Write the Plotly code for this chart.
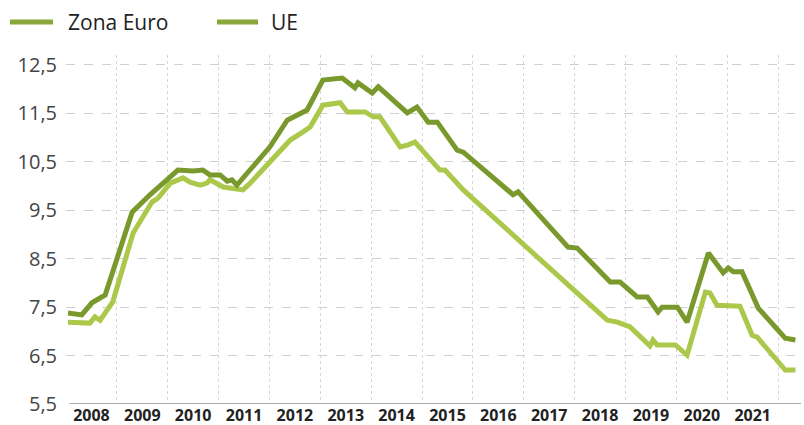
import plotly.graph_objects as go

# Zona Euro (darker line)
ez_x = [2008.04, 2008.31, 2008.51, 2008.77, 2009.30, 2009.65, 2010.20, 2010.50, 2010.69, 2010.83,
        2011.03, 2011.17, 2011.26, 2011.36, 2012.01, 2012.35, 2012.74, 2013.05, 2013.43, 2013.68,
        2013.74, 2014.02, 2014.14, 2014.71, 2014.90, 2015.12, 2015.30, 2015.69, 2015.81, 2016.79,
        2016.89, 2017.87, 2018.05, 2018.70, 2018.89, 2019.23, 2019.43, 2019.64, 2019.72, 2020.02,
        2020.21, 2020.47, 2020.63, 2020.92, 2021.02, 2021.12, 2021.29, 2021.61, 2022.14, 2022.34]
ez_y = [7.38, 7.34, 7.59, 7.75, 9.46, 9.82, 10.33, 10.31, 10.33, 10.23,
        10.23, 10.10, 10.13, 10.02, 10.81, 11.36, 11.57, 12.19, 12.23, 12.03,
        12.13, 11.92, 12.05, 11.51, 11.63, 11.32, 11.32, 10.74, 10.70, 9.82,
        9.88, 8.74, 8.72, 8.02, 8.02, 7.71, 7.71, 7.40, 7.50, 7.50,
        7.19, 8.12, 8.62, 8.21, 8.31, 8.23, 8.23, 7.48, 6.86, 6.82]

# UE (lighter line)
ue_x = [2008.04, 2008.31, 2008.47, 2008.57, 2008.67, 2008.92, 2009.32, 2009.69, 2009.81, 2010.05,
        2010.18, 2010.30, 2010.44, 2010.64, 2010.77, 2010.83, 2011.09, 2011.48, 2011.62, 2012.41,
        2012.66, 2012.80, 2013.05, 2013.39, 2013.53, 2013.88, 2014.04, 2014.17, 2014.57, 2014.73,
        2014.86, 2015.00, 2015.35, 2015.45, 2015.81, 2018.64, 2018.84, 2019.09, 2019.48, 2019.54,
        2019.62, 2019.98, 2020.21, 2020.57, 2020.66, 2020.80, 2021.25, 2021.49, 2021.59, 2022.14,
        2022.34]
ue_y = [7.19, 7.17, 7.17, 7.30, 7.23, 7.61, 9.03, 9.67, 9.75, 10.06,
        10.13, 10.17, 10.08, 10.02, 10.06, 10.13, 9.98, 9.92, 10.06, 10.95,
        11.12, 11.22, 11.67, 11.72, 11.53, 11.53, 11.43, 11.43, 10.81, 10.85,
        10.91, 10.74, 10.33, 10.33, 9.92, 7.23, 7.19, 7.09, 6.70, 6.82,
        6.72, 6.72, 6.51, 7.81, 7.79, 7.54, 7.52, 6.92, 6.88, 6.20,
        6.20]

year_labels = ["2008", "2009", "2010", "2011", "2012", "2013", "2014",
               "2015", "2016", "2017", "2018", "2019", "2020", "2021"]
y_ticks = [5.5, 6.5, 7.5, 8.5, 9.5, 10.5, 11.5, 12.5]
y_tick_labels = ["5,5", "6,5", "7,5", "8,5", "9,5", "10,5", "11,5", "12,5"]
series_names = ["Zona Euro", "UE"]

DARK = "#7a992d"
LIGHT = "#abc84b"
LEG = "#8aa83a"
FONT = "Open Sans"

fig = go.Figure()
fig.add_trace(go.Scatter(x=ue_x, y=ue_y, mode="lines", name=series_names[1],
                         line=dict(color=LIGHT, width=5), showlegend=False))
fig.add_trace(go.Scatter(x=ez_x, y=ez_y, mode="lines", name=series_names[0],
                         line=dict(color=DARK, width=5), showlegend=False))

year_vals = [int(y) + 0.5 for y in year_labels]
bounds = [int(y) for y in year_labels[1:]] + [int(year_labels[-1]) + 1]

fig.update_xaxes(
    range=[2008.0, 2022.45],
    tickvals=year_vals, ticktext=year_labels,
    showgrid=False, zeroline=False, showline=False, ticks="",
    tickfont=dict(family=FONT, size=16, color="#222222", weight="bold"),
    minor=dict(tickvals=bounds, showgrid=True, gridcolor="#d6d6d6",
               griddash="dot", gridwidth=1, ticks=""),
    automargin=False,
)
fig.update_yaxes(
    range=[5.5, 12.706],
    tickvals=y_ticks, ticktext=y_tick_labels,
    showgrid=True, gridcolor="#cfcfcf", griddash="dash", gridwidth=1,
    zeroline=False, showline=False, ticks="",
    tickfont=dict(family=FONT, size=20, color="#444444"),
    ticklabelstandoff=8,
    automargin=False,
)

LEG_Y = 1.0946
shapes = [
    dict(type="line", xref="paper", yref="y", x0=0.005, x1=1, y0=5.5, y1=5.5,
         line=dict(color="#8c8c8c", width=1.5)),
    dict(type="line", xref="paper", yref="paper", x0=(10 - 66) / 735, x1=(53 - 66) / 735,
         y0=LEG_Y, y1=LEG_Y, line=dict(color=LEG, width=5)),
    dict(type="line", xref="paper", yref="paper", x0=(217 - 66) / 735, x1=(258 - 66) / 735,
         y0=LEG_Y, y1=LEG_Y, line=dict(color=LEG, width=5)),
]
annotations = [
    dict(text=series_names[0], xref="paper", yref="paper", x=(66 - 66) / 735, y=LEG_Y,
         xanchor="left", yanchor="middle", showarrow=False,
         font=dict(family=FONT, size=21, color="#222222")),
    dict(text=series_names[1], xref="paper", yref="paper", x=(269 - 66) / 735, y=LEG_Y,
         xanchor="left", yanchor="middle", showarrow=False,
         font=dict(family=FONT, size=21, color="#222222")),
]

fig.update_layout(
    width=804, height=425,
    margin=dict(l=66, r=3, t=55, b=21),
    plot_bgcolor="white", paper_bgcolor="white",
    shapes=shapes, annotations=annotations,
    showlegend=False,
)

fig.write_html("out.html",
               config={"displayModeBar": False},
               post_script="document.body.style.margin='0';document.body.style.overflow='hidden';")
